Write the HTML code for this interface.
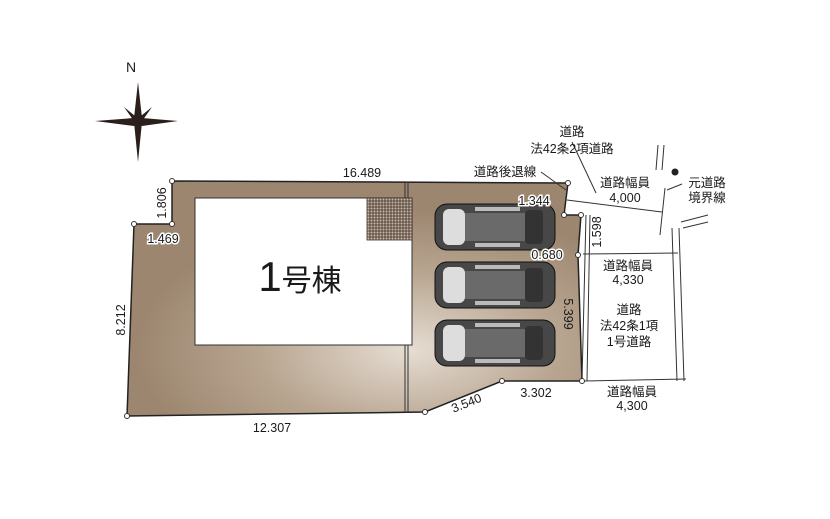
<!DOCTYPE html>
<html><head><meta charset="utf-8"><style>
body{margin:0;background:#fff;}
svg{display:block}
text{font-family:"Liberation Sans","Noto Sans CJK JP",sans-serif;fill:#1a1a1a;}
</style></head><body>
<svg width="830" height="519" viewBox="0 0 830 519" xmlns="http://www.w3.org/2000/svg">
<defs>
<radialGradient id="g" cx="0.62" cy="0.72" r="0.6">
<stop offset="0" stop-color="#e6ddd3"/><stop offset="0.55" stop-color="#b8a590"/><stop offset="1" stop-color="#9c8670"/>
</radialGradient>
<g id="car">
<rect x="0" y="0" width="120" height="46" rx="12" fill="#474747" stroke="#111"/>
<rect x="8" y="5" width="22" height="36" rx="6" fill="#ddd"/>
<rect x="30" y="9" width="60" height="28" fill="#6a6a6a"/>
<rect x="90" y="6" width="18" height="34" rx="4" fill="#333"/>
<rect x="40" y="3" width="45" height="4" fill="#bbb"/>
<rect x="40" y="39" width="45" height="4" fill="#bbb"/>
</g>
</defs>
<text x="131" y="72" font-family="Liberation Serif" font-size="14" text-anchor="middle">N</text>
<g fill="#2a1f1a">
<polygon points="138,82 142,118 138,122 134,118"/>
<polygon points="138,162 142,122 138,118 134,122"/>
<polygon points="95,121 134,118 138,122 134,126"/>
<polygon points="178,121 142,118 138,122 142,126"/>
<polygon points="124,107 140,120 136,124"/>
<polygon points="152,107 136,120 140,124"/>
<polygon points="124,136 140,120 136,124"/>
<polygon points="152,136 136,120 140,124"/>
</g>
<polygon points="172,181 568,183 564,215 581,215 578,255 582,381 502,381 425,412 127,416 134,224 172,224" fill="url(#g)" stroke="#222" stroke-width="1.5"/>
<line x1="405" y1="182" x2="405" y2="413" stroke="#333"/><line x1="408" y1="182" x2="408" y2="413" stroke="#333"/>
<rect x="195" y="198" width="217" height="147" fill="#fff" stroke="#333"/>
<g stroke="#3a2a22" stroke-width="0.8">
<rect x="367" y="198" width="45" height="42" fill="#c9b9a8"/>
<path d="M370 198V240M373 198V240M376 198V240M379 198V240M382 198V240M385 198V240M388 198V240M391 198V240M394 198V240M397 198V240M400 198V240M403 198V240M406 198V240M409 198V240M367 201H412M367 204H412M367 207H412M367 210H412M367 213H412M367 216H412M367 219H412M367 222H412M367 225H412M367 228H412M367 231H412M367 234H412M367 237H412"/>
</g>
<text x="300" y="291" font-size="42" text-anchor="middle">1<tspan font-size="30">号棟</tspan></text>
<use href="#car" x="435" y="204"/>
<use href="#car" x="435" y="262"/>
<use href="#car" x="435" y="320"/>
<g stroke="#333" fill="none" stroke-width="1">
<line x1="586" y1="215" x2="582" y2="381"/>
<line x1="590" y1="215" x2="587" y2="381"/>
<line x1="567" y1="200" x2="662" y2="212"/>
<line x1="583" y1="254" x2="678" y2="253"/>
<line x1="584" y1="381" x2="686" y2="379"/>
<line x1="672" y1="228" x2="677" y2="381"/>
<line x1="679" y1="228" x2="684" y2="381"/>
<line x1="681" y1="222" x2="708" y2="215"/><line x1="683" y1="228" x2="708" y2="222"/>
<line x1="658" y1="145" x2="656" y2="170"/><line x1="664" y1="145" x2="662" y2="170"/>
<line x1="665" y1="188" x2="660" y2="235"/>
<line x1="667" y1="190" x2="682" y2="184"/>
<line x1="572" y1="142" x2="596" y2="193"/>
<line x1="541" y1="172" x2="566" y2="190"/>
</g>
<circle cx="675" cy="172" r="3.5" fill="#222"/>
<g fill="#fff" stroke="#333">
<circle cx="172" cy="181" r="2.5"/><circle cx="568" cy="183" r="2.5"/><circle cx="564" cy="215" r="2.5"/><circle cx="581" cy="215" r="2.5"/><circle cx="578" cy="255" r="2.5"/><circle cx="582" cy="381" r="2.5"/><circle cx="502" cy="381" r="2.5"/><circle cx="425" cy="412" r="2.5"/><circle cx="127" cy="416" r="2.5"/><circle cx="134" cy="224" r="2.5"/><circle cx="172" cy="224" r="2.5"/>
</g>
<g font-size="12.5">
<text x="362" y="177" text-anchor="middle">16.489</text>
<text x="163" y="243" text-anchor="middle" stroke="#fff" stroke-width="3" paint-order="stroke">1.469</text>
<text transform="translate(166,203) rotate(-90)" text-anchor="middle">1.806</text>
<text transform="translate(125,320) rotate(-90)" text-anchor="middle">8.212</text>
<text x="272" y="432" text-anchor="middle">12.307</text>
<text transform="translate(468,407) rotate(-22)" text-anchor="middle">3.540</text>
<text x="536" y="397" text-anchor="middle">3.302</text>
<text x="534" y="205" text-anchor="middle" stroke="#fff" stroke-width="3" paint-order="stroke">1.344</text>
<text x="547" y="259" text-anchor="middle" stroke="#fff" stroke-width="3" paint-order="stroke">0.680</text>
<text transform="translate(564,314) rotate(90)" text-anchor="middle">5.399</text>
<text transform="translate(601,232) rotate(-90)" text-anchor="middle" stroke="#fff" stroke-width="3" paint-order="stroke">1.598</text>
<text x="505" y="176" text-anchor="middle">道路後退線</text>
<text x="572" y="136" text-anchor="middle">道路</text>
<text x="572" y="153" text-anchor="middle">法42条2項道路</text>
<text x="625" y="187" text-anchor="middle">道路幅員</text>
<text x="625" y="202" text-anchor="middle">4,000</text>
<text x="707" y="187" text-anchor="middle">元道路</text>
<text x="707" y="202" text-anchor="middle">境界線</text>
<text x="628" y="270" text-anchor="middle">道路幅員</text>
<text x="628" y="284" text-anchor="middle">4,330</text>
<text x="629" y="314" text-anchor="middle">道路</text>
<text x="629" y="330" text-anchor="middle">法42条1項</text>
<text x="629" y="346" text-anchor="middle">1号道路</text>
<text x="632" y="396" text-anchor="middle">道路幅員</text>
<text x="632" y="410" text-anchor="middle">4,300</text>
</g>
</svg>
</body></html>
